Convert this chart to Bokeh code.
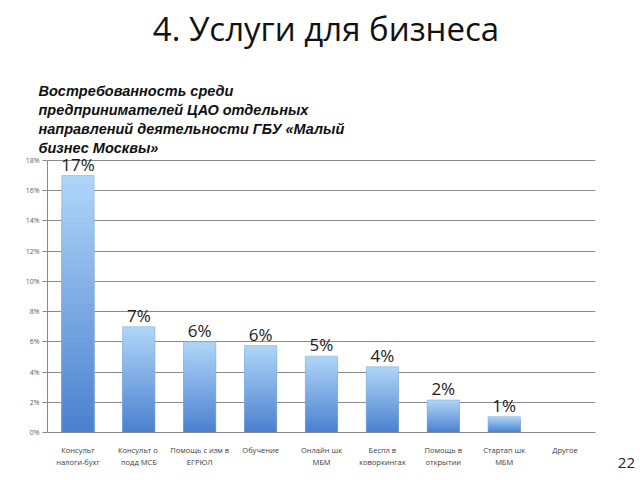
from bokeh.plotting import figure
from bokeh.layouts import row, column
from bokeh.models import Title, Div, FactorRange, Range1d, FixedTicker, CustomJSTickFormatter
from bokeh.core.properties import value
from bokeh.embed import file_html
from bokeh.resources import INLINE

categories = ["Консульт\nналоги-бухг", "Консульт  о\nподд МСБ", "Помощь с изм в\nЕГРЮЛ", "Обучение",
              "Онлайн шк\nМБМ", "Беспл в\nковоркингах", "Помощь в\nоткрытии", "Стартап шк\nМБМ", "Другое"]
values = [17.0, 7.0, 6.0, 5.75, 5.05, 4.35, 2.15, 1.05, 0.0]
value_labels = ["17%", "7%", "6%", "6%", "5%", "4%", "2%", "1%", ""]
y_ticks = [0, 2, 4, 6, 8, 10, 12, 14, 16, 18]

title_text = "4. Услуги для бизнеса"
subtitle_lines = ["Востребованность среди", "предпринимателей ЦАО отдельных",
                  "направлений деятельности ГБУ «Малый", "бизнес Москвы»"]
page_number = "22"

HEAD = 80

head = Div(text='<div style="position:absolute; top:9px; left:6px; width:640px; text-align:center; '
                'font-family:\'Open Sans\'; font-size:33px; line-height:40px; color:#111111;">'
                + title_text + '</div>',
           width=640, height=HEAD, margin=(0, 0, 0, 0), styles={"position": "relative"})

p = figure(width=600, height=480 - HEAD, x_range=FactorRange(*categories), y_range=Range1d(0, 18.26),
           output_backend="svg", toolbar_location=None, title_location=None,
           min_border_left=47, min_border_right=5, min_border_top=0, min_border_bottom=48)
p.outline_line_color = None
p.xgrid.grid_line_color = None
p.ygrid.grid_line_color = "#8a8a8a"
p.ygrid.grid_line_width = 1.2
p.ygrid.ticker = FixedTicker(ticks=y_ticks)

N = 30
def lerp(c1, c2, t):
    a = [int(c1[i:i+2], 16) for i in (1, 3, 5)]
    b = [int(c2[i:i+2], 16) for i in (1, 3, 5)]
    return "#%02x%02x%02x" % tuple(round(a[k] + (b[k] - a[k]) * t) for k in range(3))

for k in range(N - 1, -1, -1):
    f1 = (k + 1) / N
    p.vbar(x=categories, bottom=0, top=[v * f1 for v in values],
           width=0.53, fill_color=lerp("#4a80cf", "#b0d6f8", (k + 0.5) / N), line_color=None)
p.vbar(x=categories, top=values, width=0.53, fill_color=None, line_color="#8ab0dc", line_width=0.6)

p.text(x=categories, y=values, text=value_labels, text_align="center", text_baseline="bottom",
       y_offset=0, text_font=value("Open Sans"), text_font_size="17px", text_color="#1a1a1a")

p.yaxis.ticker = FixedTicker(ticks=y_ticks)
p.yaxis.bounds = (0, 18)
p.yaxis.formatter = CustomJSTickFormatter(code="return tick + '%';")
p.yaxis.major_label_text_font_size = "7px"
p.yaxis.major_label_text_color = "#606060"
p.yaxis.major_label_text_font = "Open Sans"
p.yaxis.axis_line_color = "#8a8a8a"
p.yaxis.major_tick_line_color = "#8a8a8a"
p.yaxis.major_tick_out = 5
p.yaxis.major_tick_in = 0
p.yaxis.minor_tick_line_color = None
p.yaxis.major_label_standoff = 3

p.xaxis.axis_line_color = "#8a8a8a"
p.xaxis.major_tick_line_color = None
p.xaxis.major_label_text_font_size = "7.5px"
p.xaxis.major_label_text_color = "#404040"
p.xaxis.major_label_text_font = "Open Sans"
p.xaxis.major_label_standoff = 6

for t in reversed(subtitle_lines):
    p.add_layout(Title(text=t, align="left", offset=-9, standoff=1.3, text_font="Liberation Sans",
                       text_font_style="bold italic", text_font_size="14.5px", text_color="#111111"),
                 "above")

side = Div(text='<div style="position:absolute; top:' + str(453 - HEAD) + 'px; right:5px; '
                'font-family:\'Open Sans\'; font-size:15px; color:#222222; line-height:18px;">'
                + page_number + '</div>',
           width=40, height=480 - HEAD, margin=(0, 0, 0, 0), styles={"position": "relative"})

layout = column(head, row(p, side, spacing=0), spacing=0)
open("out.html", "w").write(file_html(layout, INLINE))
